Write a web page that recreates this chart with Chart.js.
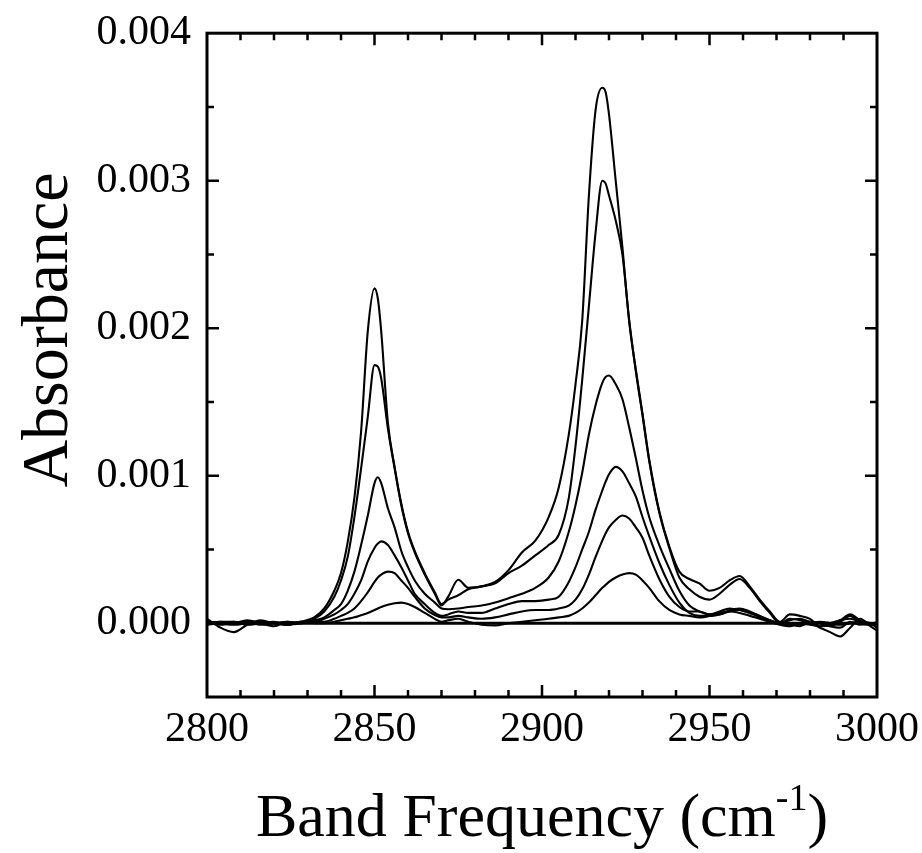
<!DOCTYPE html>
<html>
<head>
<meta charset="utf-8">
<script src="https://cdn.jsdelivr.net/npm/chart.js@4.4.1/dist/chart.umd.min.js"></script>
<style>
  html, body { margin: 0; padding: 0; background: #fff; }
</style>
</head>
<body>
<canvas id="irChart" width="922" height="853"></canvas>
<script>
// Band frequency (cm-1), shared by every spectrum
const wavenumbers = [2800, 2804, 2808, 2812, 2816, 2820, 2824, 2828, 2832, 2835,
  2838, 2840, 2842, 2844, 2846, 2848, 2850, 2851, 2852, 2854,
  2856, 2858, 2860, 2862, 2865, 2868, 2870, 2872, 2875, 2878,
  2882, 2886, 2890, 2894, 2898, 2902, 2905, 2908, 2910, 2912,
  2914, 2916, 2918, 2919, 2920, 2922, 2924, 2926, 2928, 2930,
  2932, 2935, 2938, 2941, 2944, 2947, 2950, 2953, 2956, 2959,
  2962, 2965, 2968, 2971, 2974, 2977, 2980, 2983, 2986, 2989,
  2992, 2995, 2998, 3000];

// Absorbance of the six spectra, largest first
const spectrum1 = [0.00003, -0.00003, -0.00006, -0.00001, 0.00002, 0.00000, -0.00001, 0.00001, 0.00004, 0.00010,
  0.00022, 0.00034, 0.00055, 0.00085, 0.00130, 0.00198, 0.00227, 0.00220, 0.00198, 0.00136,
  0.00106, 0.00081, 0.00062, 0.00049, 0.00034, 0.00021, 0.00013, 0.00016, 0.00019, 0.00023,
  0.00025, 0.00028, 0.00036, 0.00048, 0.00056, 0.00072, 0.00092, 0.00128, 0.00162, 0.00205,
  0.00290, 0.00348, 0.00363, 0.00360, 0.00345, 0.00300, 0.00255, 0.00205, 0.00172, 0.00142,
  0.00111, 0.00076, 0.00052, 0.00035, 0.00030, 0.00027, 0.00022, 0.00024, 0.00029, 0.00032,
  0.00025, 0.00016, 0.00008, 0.00001, 0.00006, 0.00005, 0.00003, -0.00002, -0.00001, 0.00002,
  0.00006, 0.00002, 0.00000, -0.00003];
const spectrum2 = [0.00001, -0.00001, 0.00000, 0.00002, 0.00000, -0.00002, 0.00001, 0.00000, 0.00003, 0.00008,
  0.00018, 0.00029, 0.00045, 0.00072, 0.00105, 0.00140, 0.00175, 0.00174, 0.00166, 0.00132,
  0.00105, 0.00080, 0.00061, 0.00048, 0.00033, 0.00020, 0.00012, 0.00018, 0.000295, 0.00024,
  0.00025, 0.00027, 0.00034, 0.00039, 0.00046, 0.00053, 0.00060, 0.00085, 0.00120, 0.00165,
  0.00215, 0.00265, 0.00300, 0.00298, 0.00290, 0.00273, 0.00250, 0.00206, 0.00171, 0.00141,
  0.00110, 0.00075, 0.00051, 0.00031, 0.00023, 0.00018, 0.00016, 0.00020, 0.00026, 0.00030,
  0.00024, 0.00015, 0.00007, 0.00000, 0.00003, 0.00002, 0.00000, -0.00003, -0.00006, -0.00009,
  -0.00003, 0.00003, -0.00002, -0.00005];
const spectrum3 = [0.00000, 0.00001, 0.00001, -0.00001, 0.00000, 0.00001, -0.00001, 0.00000, 0.00002, 0.00004,
  0.00009, 0.00013, 0.00022, 0.00035, 0.00053, 0.00073, 0.00095, 0.00099, 0.00095, 0.00078,
  0.00065, 0.00049, 0.00038, 0.00029, 0.00020, 0.00014, 0.00010, 0.000095, 0.00010, 0.00011,
  0.00012, 0.00014, 0.00017, 0.00020, 0.00024, 0.00031, 0.00042, 0.00062, 0.00080, 0.00102,
  0.00128, 0.00148, 0.00163, 0.00167, 0.00168, 0.00162, 0.00152, 0.00133, 0.00112, 0.00090,
  0.00072, 0.00053, 0.00037, 0.00022, 0.00012, 0.00008, 0.00006, 0.00006, 0.00009, 0.00010,
  0.00008, 0.00005, 0.00002, 0.00000, -0.00001, -0.00002, 0.00001, 0.00000, -0.00002, 0.00001,
  0.00005, 0.00000, -0.00001, 0.00001];
const spectrum4 = [0.00001, 0.00000, -0.00001, 0.00000, 0.00001, 0.00000, -0.00001, 0.00001, 0.00001, 0.00003,
  0.00006, 0.00009, 0.00013, 0.00020, 0.00029, 0.00042, 0.00051, 0.00054, 0.000555, 0.00053,
  0.00046, 0.00038, 0.00029, 0.00020, 0.00013, 0.00007, 0.00005, 0.00006, 0.00008, 0.00007,
  0.00007, 0.00010, 0.00013, 0.00015, 0.00015, 0.00016, 0.00018, 0.00028, 0.00038, 0.00050,
  0.00062, 0.00077, 0.00090, 0.00096, 0.00101, 0.00106, 0.00103, 0.00095, 0.00086, 0.00072,
  0.00059, 0.00041, 0.00026, 0.00014, 0.00007, 0.00005, 0.00005, 0.00006, 0.00008, 0.00009,
  0.00007, 0.00004, 0.00001, -0.00001, -0.00002, 0.00000, -0.00001, -0.00002, 0.00000, 0.00002,
  0.00003, 0.00001, -0.00001, 0.00000];
const spectrum5 = [0.00000, 0.00001, 0.00000, 0.00001, -0.00001, 0.00000, 0.00001, 0.00000, 0.00001, 0.00001,
  0.00003, 0.00005, 0.00007, 0.00010, 0.00015, 0.00021, 0.00028, 0.00031, 0.00033, 0.00035,
  0.00034, 0.00029, 0.00024, 0.00018, 0.00010, 0.000055, 0.00004, 0.00004, 0.00005, 0.00004,
  0.00003, 0.00004, 0.00006, 0.00008, 0.00009, 0.00009, 0.00010, 0.00012, 0.00016, 0.00023,
  0.00033, 0.00045, 0.00056, 0.00061, 0.00065, 0.00070, 0.00073, 0.00071, 0.00065, 0.00058,
  0.00046, 0.00030, 0.00018, 0.00011, 0.00008, 0.00008, 0.00006, 0.00008, 0.00010, 0.00009,
  0.00007, 0.00005, 0.00002, 0.00000, 0.00002, 0.00003, 0.00001, 0.00000, -0.00002, -0.00003,
  0.00001, -0.00001, 0.00000, -0.00002];
const spectrum6 = [-0.00001, 0.00000, 0.00001, 0.00000, 0.00001, 0.00000, 0.00000, 0.00001, 0.00000, 0.00000,
  0.00001, 0.00002, 0.00003, 0.00004, 0.000055, 0.00007, 0.00009, 0.00010, 0.00011, 0.000125,
  0.000135, 0.00014, 0.00013, 0.00011, 0.00007, 0.00003, 0.00001, 0.00002, 0.00003, 0.00001,
  -0.00001, -0.000015, 0.00000, 0.00001, 0.00002, 0.00003, 0.00004, 0.00005, 0.00007, 0.00010,
  0.00014, 0.00019, 0.00024, 0.00026, 0.00028, 0.00031, 0.00033, 0.00034, 0.00033, 0.00029,
  0.00024, 0.00015, 0.00009, 0.00006, 0.00005, 0.00004, 0.00005, 0.00007, 0.00008, 0.00007,
  0.00005, 0.00003, 0.00001, 0.00000, 0.00000, -0.00001, 0.00000, 0.00001, 0.00000, -0.00001,
  0.00000, 0.00001, -0.00001, 0.00000];

// zero absorbance reference line
const baselineX = [2800, 3000];
const baselineY = [0, 0];

const xTicks = [2800, 2850, 2900, 2950, 3000];
const yTicks = [0.000, 0.001, 0.002, 0.003, 0.004];

const serif = "'Liberation Serif', 'Times New Roman', serif";

function toPoints(xs, ys) {
    return xs.map((x, i) => ({ x: x, y: ys[i] }));
}

// frame round the plot plus inward major/minor ticks on all four sides
const frameTicks = {
    id: 'frameTicks',
    afterDatasetsDraw(chart) {
        const { ctx, chartArea: a, scales: { x, y } } = chart;
        ctx.save();
        ctx.strokeStyle = '#000';
        ctx.lineWidth = 2.5;
        ctx.beginPath();
        for (let v = 2810; v < 3000; v += 10) {
            const px = x.getPixelForValue(v);
            const len = v % 50 === 0 ? 12 : 7;
            ctx.moveTo(px, a.bottom); ctx.lineTo(px, a.bottom - len);
            ctx.moveTo(px, a.top); ctx.lineTo(px, a.top + len);
        }
        for (let k = 0; k < 8; k++) {
            const py = y.getPixelForValue(k * 0.0005);
            const len = k % 2 === 0 ? 12 : 7;
            ctx.moveTo(a.left, py); ctx.lineTo(a.left + len, py);
            ctx.moveTo(a.right, py); ctx.lineTo(a.right - len, py);
        }
        ctx.stroke();
        ctx.lineWidth = 3;
        ctx.strokeRect(a.left, a.top, a.right - a.left, a.bottom - a.top);
        ctx.restore();
    }
};

// axis titles (the x title needs a superscript)
const axisTitles = {
    id: 'axisTitles',
    afterDraw(chart) {
        const { ctx, chartArea: a } = chart;
        ctx.save();
        ctx.fillStyle = '#000';
        ctx.textBaseline = 'alphabetic';

        const big = '62px ' + serif, small = '38px ' + serif;
        const p1 = 'Band Frequency (cm', p2 = '-1', p3 = ')';
        ctx.font = big;
        const w1 = ctx.measureText(p1).width, w3 = ctx.measureText(p3).width;
        ctx.font = small;
        const w2 = ctx.measureText(p2).width;
        let tx = (a.left + a.right) / 2 - (w1 + w2 + w3) / 2;
        const base = 836;
        ctx.textAlign = 'left';
        ctx.font = big; ctx.fillText(p1, tx, base); tx += w1;
        ctx.font = small; ctx.fillText(p2, tx, base - 26); tx += w2;
        ctx.font = big; ctx.fillText(p3, tx, base);

        ctx.translate(67, 330);
        ctx.rotate(-Math.PI / 2);
        ctx.textAlign = 'center';
        ctx.font = '66px ' + serif;
        ctx.fillText('Absorbance', 0, 0);
        ctx.restore();
    }
};

const lineStyle = {
    borderColor: '#000',
    borderWidth: 2.1,
    pointRadius: 0,
    fill: false,
    cubicInterpolationMode: 'monotone'
};

new Chart(document.getElementById('irChart').getContext('2d'), {
    type: 'line',
    data: {
        datasets: [
            Object.assign({ data: toPoints(baselineX, baselineY) }, lineStyle, { borderWidth: 2.8 }),
            Object.assign({ data: toPoints(wavenumbers, spectrum1) }, lineStyle),
            Object.assign({ data: toPoints(wavenumbers, spectrum2) }, lineStyle),
            Object.assign({ data: toPoints(wavenumbers, spectrum3) }, lineStyle),
            Object.assign({ data: toPoints(wavenumbers, spectrum4) }, lineStyle),
            Object.assign({ data: toPoints(wavenumbers, spectrum5) }, lineStyle),
            Object.assign({ data: toPoints(wavenumbers, spectrum6) }, lineStyle)
        ]
    },
    options: {
        responsive: false,
        animation: false,
        layout: { padding: { top: 22, right: 45, bottom: 0, left: 0 } },
        plugins: {
            legend: { display: false },
            tooltip: { enabled: false }
        },
        scales: {
            x: {
                type: 'linear',
                min: 2800,
                max: 3000,
                grid: { display: false },
                border: { display: false },
                afterBuildTicks: s => { s.ticks = xTicks.map(v => ({ value: v })); },
                afterFit: s => { s.height = 156; },
                ticks: {
                    color: '#000',
                    font: { family: serif, size: 42 },
                    padding: 0,
                    maxRotation: 0,
                    autoSkip: false,
                    callback: v => String(v)
                }
            },
            y: {
                min: -0.0005,
                max: 0.004,
                grid: { display: false },
                border: { display: false },
                afterBuildTicks: s => { s.ticks = yTicks.map(v => ({ value: v })); },
                afterFit: s => { s.width = 207; },
                ticks: {
                    color: '#000',
                    font: { family: serif, size: 42 },
                    padding: 8,
                    callback: v => Number(v).toFixed(3)
                }
            }
        }
    },
    plugins: [frameTicks, axisTitles]
});
</script>
</body>
</html>
